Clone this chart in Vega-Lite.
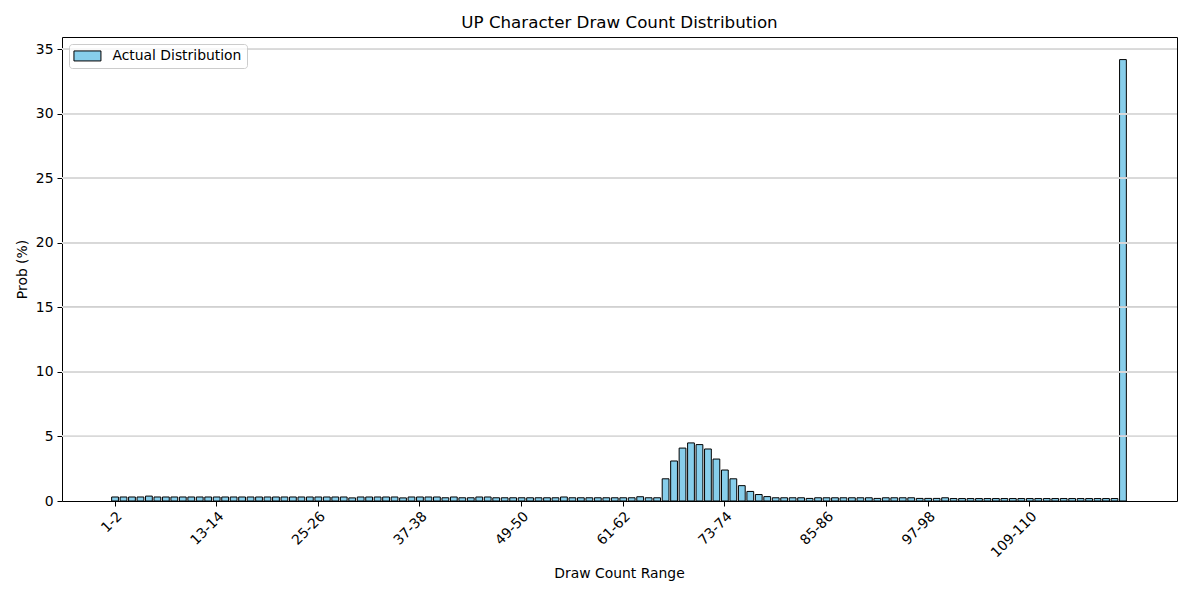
{
  "$schema": "https://vega.github.io/schema/vega-lite/v6.json",
  "width": 1115,
  "height": 464,
  "autosize": {"type": "none"},
  "padding": {"left": 62, "top": 37, "right": 15, "bottom": 95},
  "background": "white",
  "config": {
    "font": "DejaVu Sans",
    "view": {"stroke": "black", "strokeWidth": 1},
    "axis": {"labelFont": "DejaVu Sans", "titleFont": "DejaVu Sans", "labelColor": "black", "titleColor": "black", "labelFontSize": 13.9, "titleFontSize": 13.9, "titleFontWeight": "normal", "tickColor": "black", "tickSize": 5, "domain": false}
  },
  "title": {"text": "UP Character Draw Count Distribution", "font": "DejaVu Sans", "fontSize": 16.7, "fontWeight": "normal", "color": "black", "baseline": "middle", "offset": -3},
  "data": {"values": [
    {"r": "1-2", "p": 0.31}, {"r": "2-3", "p": 0.31}, {"r": "3-4", "p": 0.31}, {"r": "4-5", "p": 0.31}, {"r": "5-6", "p": 0.38},
    {"r": "6-7", "p": 0.31}, {"r": "7-8", "p": 0.31}, {"r": "8-9", "p": 0.31}, {"r": "9-10", "p": 0.31}, {"r": "10-11", "p": 0.31},
    {"r": "11-12", "p": 0.31}, {"r": "12-13", "p": 0.31}, {"r": "13-14", "p": 0.31}, {"r": "14-15", "p": 0.31}, {"r": "15-16", "p": 0.31},
    {"r": "16-17", "p": 0.31}, {"r": "17-18", "p": 0.31}, {"r": "18-19", "p": 0.31}, {"r": "19-20", "p": 0.31}, {"r": "20-21", "p": 0.31},
    {"r": "21-22", "p": 0.31}, {"r": "22-23", "p": 0.31}, {"r": "23-24", "p": 0.31}, {"r": "24-25", "p": 0.31}, {"r": "25-26", "p": 0.31},
    {"r": "26-27", "p": 0.31}, {"r": "27-28", "p": 0.31}, {"r": "28-29", "p": 0.31}, {"r": "29-30", "p": 0.24}, {"r": "30-31", "p": 0.31},
    {"r": "31-32", "p": 0.31}, {"r": "32-33", "p": 0.31}, {"r": "33-34", "p": 0.31}, {"r": "34-35", "p": 0.31}, {"r": "35-36", "p": 0.24},
    {"r": "36-37", "p": 0.31}, {"r": "37-38", "p": 0.31}, {"r": "38-39", "p": 0.31}, {"r": "39-40", "p": 0.31}, {"r": "40-41", "p": 0.25},
    {"r": "41-42", "p": 0.31}, {"r": "42-43", "p": 0.25}, {"r": "43-44", "p": 0.25}, {"r": "44-45", "p": 0.31}, {"r": "45-46", "p": 0.31},
    {"r": "46-47", "p": 0.25}, {"r": "47-48", "p": 0.25}, {"r": "48-49", "p": 0.25}, {"r": "49-50", "p": 0.25}, {"r": "50-51", "p": 0.25},
    {"r": "51-52", "p": 0.25}, {"r": "52-53", "p": 0.25}, {"r": "53-54", "p": 0.25}, {"r": "54-55", "p": 0.31}, {"r": "55-56", "p": 0.25},
    {"r": "56-57", "p": 0.25}, {"r": "57-58", "p": 0.25}, {"r": "58-59", "p": 0.25}, {"r": "59-60", "p": 0.25}, {"r": "60-61", "p": 0.25},
    {"r": "61-62", "p": 0.25}, {"r": "62-63", "p": 0.25}, {"r": "63-64", "p": 0.33}, {"r": "64-65", "p": 0.25}, {"r": "65-66", "p": 0.25},
    {"r": "66-67", "p": 1.72}, {"r": "67-68", "p": 3.1}, {"r": "68-69", "p": 4.1}, {"r": "69-70", "p": 4.5}, {"r": "70-71", "p": 4.37},
    {"r": "71-72", "p": 4.03}, {"r": "72-73", "p": 3.25}, {"r": "73-74", "p": 2.4}, {"r": "74-75", "p": 1.72}, {"r": "75-76", "p": 1.19},
    {"r": "76-77", "p": 0.74}, {"r": "77-78", "p": 0.5}, {"r": "78-79", "p": 0.34}, {"r": "79-80", "p": 0.25}, {"r": "80-81", "p": 0.25},
    {"r": "81-82", "p": 0.25}, {"r": "82-83", "p": 0.25}, {"r": "83-84", "p": 0.2}, {"r": "84-85", "p": 0.25}, {"r": "85-86", "p": 0.25},
    {"r": "86-87", "p": 0.25}, {"r": "87-88", "p": 0.25}, {"r": "88-89", "p": 0.25}, {"r": "89-90", "p": 0.25}, {"r": "90-91", "p": 0.25},
    {"r": "91-92", "p": 0.2}, {"r": "92-93", "p": 0.25}, {"r": "93-94", "p": 0.25}, {"r": "94-95", "p": 0.25}, {"r": "95-96", "p": 0.25},
    {"r": "96-97", "p": 0.2}, {"r": "97-98", "p": 0.2}, {"r": "98-99", "p": 0.2}, {"r": "99-100", "p": 0.25}, {"r": "100-101", "p": 0.19},
    {"r": "101-102", "p": 0.19}, {"r": "102-103", "p": 0.19}, {"r": "103-104", "p": 0.19}, {"r": "104-105", "p": 0.19}, {"r": "105-106", "p": 0.19},
    {"r": "106-107", "p": 0.19}, {"r": "107-108", "p": 0.19}, {"r": "108-109", "p": 0.19}, {"r": "109-110", "p": 0.19}, {"r": "110-111", "p": 0.19},
    {"r": "111-112", "p": 0.19}, {"r": "112-113", "p": 0.19}, {"r": "113-114", "p": 0.19}, {"r": "114-115", "p": 0.19}, {"r": "115-116", "p": 0.19},
    {"r": "116-117", "p": 0.19}, {"r": "117-118", "p": 0.19}, {"r": "118-119", "p": 0.19}, {"r": "119-120", "p": 0.19}, {"r": "120-121", "p": 34.2}
  ]},
  "layer": [
    {
      "mark": {"type": "bar", "stroke": "black", "strokeWidth": 1},
      "encoding": {
        "x": {
          "field": "r", "type": "ordinal", "sort": null,
          "scale": {"paddingInner": 0.2, "paddingOuter": 0.1, "range": [48.8, 1065.2]},
          "axis": {
            "title": "Draw Count Range",
            "values": ["1-2", "13-14", "25-26", "37-38", "49-50", "61-62", "73-74", "85-86", "97-98", "109-110"],
            "labelAngle": -45, "labelAlign": "right", "labelBaseline": "top", "labelPadding": 3,
            "titleY": 72, "titleBaseline": "middle", "grid": false
          }
        },
        "y": {
          "field": "p", "type": "quantitative",
          "scale": {"domain": [0, 35.95], "nice": false, "zero": true},
          "axis": {
            "title": "Prob (%)",
            "values": [0, 5, 10, 15, 20, 25, 30, 35],
            "grid": false,
            "labelPadding": 4, "titleX": -40, "titleBaseline": "middle"
          }
        },
        "color": {
          "datum": "Actual Distribution", "type": "nominal",
          "scale": {"range": ["#87ceeb"]},
          "legend": {
            "title": null, "orient": "top-left", "offset": 7, "zindex": 2,
            "padding": 5, "strokeColor": "#cccccc", "fillColor": "rgba(255,255,255,0.8)", "cornerRadius": 3,
            "symbolType": "M-2.7,-1H2.7V1H-2.7Z", "symbolSize": 100, "symbolOffset": 6.5,
            "symbolStrokeColor": "black", "symbolStrokeWidth": 1, "symbolOpacity": 1,
            "labelFont": "DejaVu Sans", "labelFontSize": 13.9, "labelColor": "black", "labelOffset": 18,
            "encode": {"symbols": {"update": {"stroke": {"value": "black"}, "strokeWidth": {"value": 1}, "fill": {"value": "#87ceeb"}, "opacity": {"value": 1}}}}
          }
        }
      }
    },
    {"mark": {"type": "rule", "color": "#d9d9d9", "strokeWidth": 0.8}, "encoding": {"y": {"datum": 5}}},
    {"mark": {"type": "rule", "color": "#d9d9d9", "strokeWidth": 0.8}, "encoding": {"y": {"datum": 10}}},
    {"mark": {"type": "rule", "color": "#d9d9d9", "strokeWidth": 0.8}, "encoding": {"y": {"datum": 15}}},
    {"mark": {"type": "rule", "color": "#d9d9d9", "strokeWidth": 0.8}, "encoding": {"y": {"datum": 20}}},
    {"mark": {"type": "rule", "color": "#d9d9d9", "strokeWidth": 0.8}, "encoding": {"y": {"datum": 25}}},
    {"mark": {"type": "rule", "color": "#d9d9d9", "strokeWidth": 0.8}, "encoding": {"y": {"datum": 30}}},
    {"mark": {"type": "rule", "color": "#d9d9d9", "strokeWidth": 0.8}, "encoding": {"y": {"datum": 35}}}
  ]
}
